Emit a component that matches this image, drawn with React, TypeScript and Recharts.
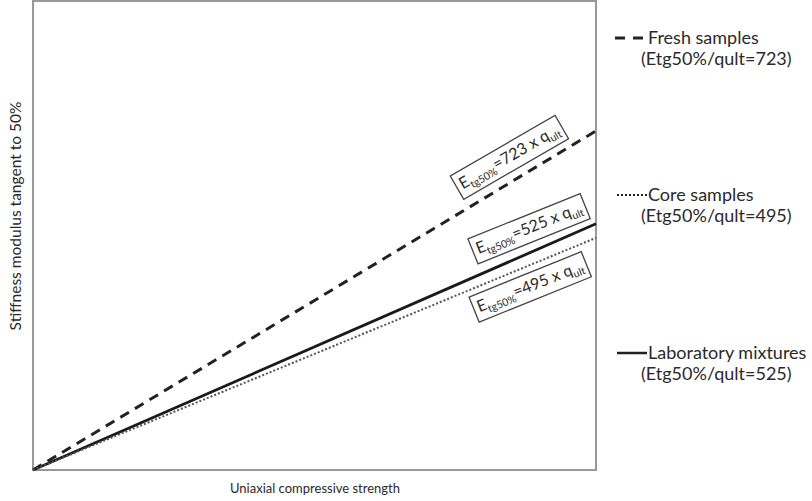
import { LineChart, Line, XAxis, YAxis, ReferenceArea, ReferenceDot, Customized } from 'recharts'

// strength axis runs 0..1 (arbitrary units), modulus = ratio x strength
const strength = [0, 1]
const freshSamples = [0, 723]
const coreSamples = [0, 495]
const labMixtures = [0, 525]

// ratio labels placed along each line (x in strength units, y in modulus units)
const ratioLabels = [
  { ratio: 723, x: 0.845, y: 667, angle: -30 },
  { ratio: 525, x: 0.88, y: 515, angle: -22 },
  { ratio: 495, x: 0.882, y: 391, angle: -22 },
]

const legendItems = [
  { name: 'Fresh samples', ratio: 723, dash: '10 8', width: 3, top: 38, x1: 615, x2: 645 },
  { name: 'Core samples', ratio: 495, dash: '2 2', width: 2, top: 195, x1: 617, x2: 647 },
  { name: 'Laboratory mixtures', ratio: 525, dash: undefined, width: 2.5, top: 353, x1: 617, x2: 647 },
]

const data = strength.map((x, i) => ({
  x,
  fresh: freshSamples[i],
  core: coreSamples[i],
  lab: labMixtures[i],
}))

const FONT = 'Lato, "Open Sans", sans-serif'
const INK = '#2a2a2a'

const RatioBox = ({ cx, cy, ratio, angle }: { cx?: number; cy?: number; ratio: number; angle: number }) => {
  if (cx == null || cy == null) return null
  return (
    <g transform={`translate(${cx},${cy}) rotate(${angle})`}>
      <rect x={-60} y={-13} width={121} height={27} fill="#fff" stroke="#444" strokeWidth={1.3} />
      <text x={-56} y={5} fontFamily={FONT} fontSize={16} fill={INK}>
        E
        <tspan fontSize={10.5} dy={4}>tg50%</tspan>
        <tspan fontSize={16} dy={-4}>{`=${ratio} x q`}</tspan>
        <tspan fontSize={10.5} dy={4}>ult</tspan>
      </text>
    </g>
  )
}

const Annotations = () => (
  <g fontFamily={FONT} fill={INK}>
    <text x={315} y={493} textAnchor="middle" fontSize={13}>
      Uniaxial compressive strength
    </text>
    <text x={0} y={0} transform="translate(21,216) rotate(-90)" textAnchor="middle" fontSize={15.5}>
      Stiffness modulus tangent to 50%
    </text>
    {legendItems.map((it) => (
      <g key={it.name}>
        <line
          x1={it.x1}
          x2={it.x2}
          y1={it.top}
          y2={it.top}
          stroke="#222"
          strokeWidth={it.width}
          strokeDasharray={it.dash}
        />
        <text x={648} y={it.top + 6} fontSize={18}>
          {it.name}
        </text>
        <text x={641} y={it.top + 27} fontSize={18}>
          {`(Etg50%/qult=${it.ratio})`}
        </text>
      </g>
    ))}
  </g>
)

export default function App() {
  return (
    <div style={{ position: 'absolute', left: 0, top: 0, width: 812, height: 501, background: '#fff' }}>
      <LineChart width={812} height={501} data={data} margin={{ top: 1, right: 216, bottom: 31, left: 33 }}>
        <XAxis dataKey="x" type="number" domain={[0, 1]} hide />
        <YAxis type="number" domain={[0, 1000]} hide />
        <ReferenceArea x1={0} x2={1} y1={0} y2={1000} fill="none" stroke="#999" strokeWidth={2} />
        <Line
          dataKey="fresh"
          stroke="#222"
          strokeWidth={3}
          strokeDasharray="10 7"
          dot={false}
          isAnimationActive={false}
        />
        <Line dataKey="lab" stroke="#1a1a1a" strokeWidth={2.8} dot={false} isAnimationActive={false} />
        <Line
          dataKey="core"
          stroke="#555"
          strokeWidth={2}
          strokeDasharray="2 2"
          dot={false}
          isAnimationActive={false}
        />
        {ratioLabels.map((l) => (
          <ReferenceDot
            key={l.ratio}
            x={l.x}
            y={l.y}
            r={0}
            shape={(p: { cx?: number; cy?: number }) => (
              <RatioBox cx={p.cx} cy={p.cy} ratio={l.ratio} angle={l.angle} />
            )}
          />
        ))}
        <Customized component={Annotations} />
      </LineChart>
    </div>
  )
}
